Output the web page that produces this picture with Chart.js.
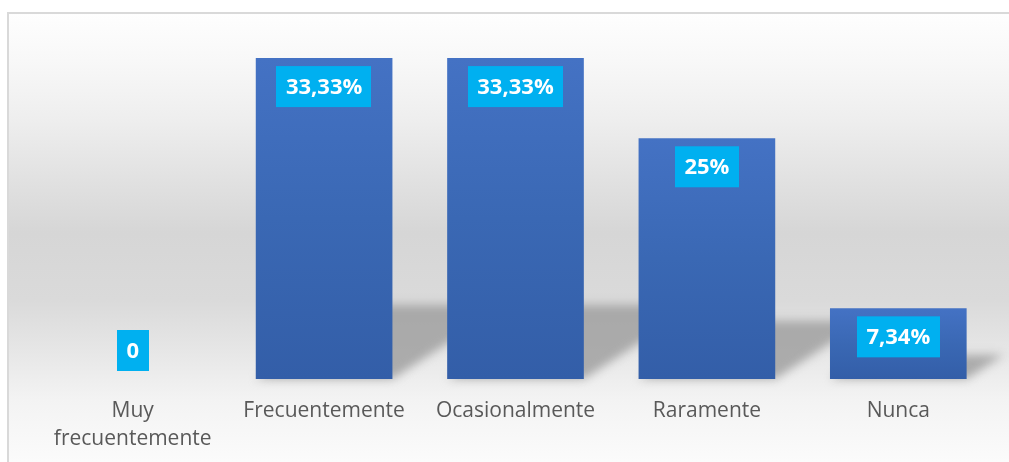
<!DOCTYPE html>
<html><head><meta charset="utf-8">
<script src="https://cdn.jsdelivr.net/npm/chart.js@4.4.1/dist/chart.umd.min.js"></script>
<style>html,body{margin:0;padding:0;background:#fff;overflow:hidden}#wrap{position:relative;width:1009px;height:462px}</style>
</head><body><div id="wrap"><canvas id="c" width="1009" height="462"></canvas></div>
<script>
const categories = [['Muy', 'frecuentemente'], 'Frecuentemente', 'Ocasionalmente', 'Raramente', 'Nunca'];
const values = [0, 33.33, 33.33, 25, 7.34];
const valueLabels = ['0', '33,33%', '33,33%', '25%', '7,34%'];
const yMax = 35;

const bgPlugin = {
  id: 'bg',
  beforeDraw(chart) {
    const ctx = chart.ctx, W = chart.width, H = chart.height;
    ctx.save();
    ctx.fillStyle = '#ffffff';
    ctx.fillRect(0, 0, W, H);
    const g = ctx.createLinearGradient(0, 13, 0, H);
    g.addColorStop(0, '#fefefe');
    g.addColorStop(0.105, '#f8f8f8');
    g.addColorStop(0.238, '#eeeeee');
    g.addColorStop(0.49, '#d6d6d6');
    g.addColorStop(0.64, '#dadada');
    g.addColorStop(0.75, '#e6e6e6');
    g.addColorStop(0.86, '#f3f3f3');
    g.addColorStop(1, '#fbfbfb');
    ctx.fillStyle = g;
    ctx.fillRect(8, 13, W, H);
    ctx.strokeStyle = '#d9d9d9';
    ctx.lineWidth = 2;
    ctx.beginPath();
    ctx.moveTo(8, H + 2); ctx.lineTo(8, 13); ctx.lineTo(W + 2, 13);
    ctx.stroke();
    ctx.restore();
  }
};

const shadowPlugin = {
  id: 'shadows',
  beforeDatasetsDraw(chart) {
    const ctx = chart.ctx;
    const meta = chart.getDatasetMeta(0);
    meta.data.forEach(bar => {
      const h = bar.base - bar.y;
      if (h <= 0) return;
      const x0 = bar.x - bar.width / 2, x1 = bar.x + bar.width / 2;
      const sh = 0.2 * h + 10, skew = sh / 0.65;
      ctx.save();
      ctx.filter = 'blur(5px)';
      ctx.fillStyle = 'rgba(160,160,160,0.85)';
      ctx.beginPath();
      ctx.moveTo(x0, bar.base);
      ctx.lineTo(x1, bar.base);
      ctx.lineTo(x1 + skew, bar.base - sh);
      ctx.lineTo(x0 + skew, bar.base - sh);
      ctx.closePath();
      ctx.fill();
      ctx.restore();
    });
  }
};

const labelPlugin = {
  id: 'vlabels',
  afterDatasetsDraw(chart) {
    const ctx = chart.ctx;
    const meta = chart.getDatasetMeta(0);
    ctx.save();
    ctx.font = 'bold 22px "Open Sans"';
    ctx.textAlign = 'center';
    ctx.textBaseline = 'middle';
    meta.data.forEach((bar, i) => {
      const txt = valueLabels[i];
      const w = ctx.measureText(txt).width + 19;
      const bh = 41;
      let top = (bar.base - bar.y) > bh + 16 ? bar.y + 8 : bar.base - 8 - bh;
      ctx.fillStyle = '#00B0F0';
      ctx.fillRect(Math.round(bar.x - w / 2), top, Math.round(w), bh);
      ctx.fillStyle = '#ffffff';
      ctx.fillText(txt, bar.x, top + bh / 2 + 1);
    });
    ctx.restore();
  }
};

new Chart(document.getElementById('c'), {
  type: 'bar',
  data: {
    labels: categories,
    datasets: [{
      data: values,
      backgroundColor: (c) => {
        const chart = c.chart;
        if (c.type !== 'data' || !chart.chartArea || !chart.scales.y) return '#3D69B8';
        const ys = chart.scales.y;
        const top = ys.getPixelForValue(values[c.dataIndex]);
        const base = ys.getPixelForValue(0);
        if (!(base > top)) return '#3D69B8';
        const g = chart.ctx.createLinearGradient(0, top, 0, base);
        g.addColorStop(0, '#4472C4');
        g.addColorStop(0.5, '#3A68B4');
        g.addColorStop(1, '#335EA8');
        return g;
      },
      borderWidth: 0,
      barPercentage: 0.714,
      categoryPercentage: 1
    }]
  },
  options: {
    responsive: false,
    animation: false,
    devicePixelRatio: 1,
    layout: { padding: { left: 37, right: 15, top: 42, bottom: 11 } },
    plugins: { legend: { display: false }, tooltip: { enabled: false } },
    scales: {
      x: {
        offset: true,
        grid: { display: false },
        border: { display: false },
        afterFit(scale) { scale.height = 72; },
        ticks: {
          color: '#595959',
          font: { family: 'Open Sans', size: 21, lineHeight: 1.333 },
          padding: 10,
          maxRotation: 0,
          autoSkip: false
        }
      },
      y: { display: false, min: 0, max: yMax }
    }
  },
  plugins: [bgPlugin, shadowPlugin, labelPlugin]
});
</script>
</body></html>
